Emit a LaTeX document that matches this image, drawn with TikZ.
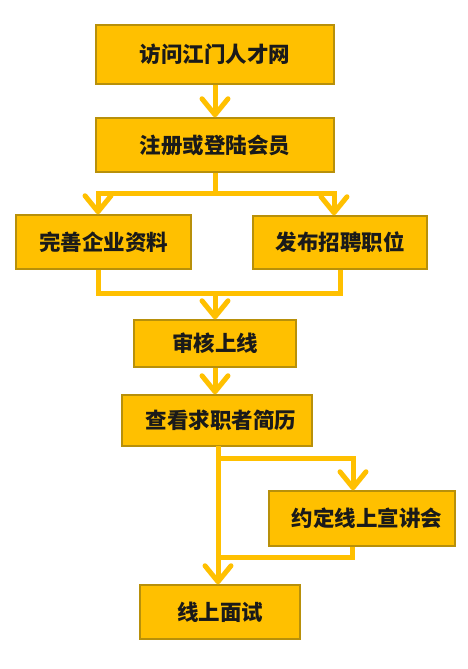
\documentclass[tikz,border=0pt]{standalone}
\usepackage{fontspec}
\newfontfamily\cjk{Noto Sans CJK SC}
\usetikzlibrary{arrows.meta}
\definecolor{gold}{HTML}{FFC000}
\definecolor{goldedge}{HTML}{B8900A}
\definecolor{ink}{HTML}{1A1A1A}
\begin{document}
\begin{tikzpicture}[x=1pt,y=-1pt,
  box/.style={draw=goldedge, line width=1.5pt, fill=gold, text=ink,
    font=\cjk\bfseries\fontsize{21.5}{25}\selectfont, inner sep=0pt},
  flow/.style={draw=gold, line width=5pt, line join=miter},
  arr/.style={flow, -{Straight Barb[length=16pt,width=26pt,round]}}]
\useasboundingbox[fill=white] (0,0) rectangle (468,669);

\node[box, minimum width=238pt, minimum height=59pt] (b1) at (215,54.5) {访问江门人才网};
\node[box, minimum width=238pt, minimum height=54pt] (b2) at (215,145) {注册或登陆会员};
\node[box, minimum width=175pt, minimum height=54pt] (b3) at (103.5,242) {完善企业资料};
\node[box, minimum width=174pt, minimum height=53pt] (b4) at (340,242.5) {发布招聘职位};
\node[box, minimum width=162pt, minimum height=47pt] (b5) at (215,343.5) {审核上线};
\node[box, minimum width=190pt, minimum height=51pt, text width=175pt, align=center] (b6) at (217,420.5) {\hspace*{8pt}查看求职者简历};
\node[box, minimum width=186pt, minimum height=55pt, text width=175pt, align=center] (b7) at (362,518.5) {\hspace*{10pt}约定线上宣讲会};
\node[box, minimum width=160pt, minimum height=54pt] (b8) at (220,612) {线上面试};

% 1 -> 2
\draw[arr] (b1.south) -- (b2.north);

% split to 3 and 4
\coordinate (jL) at (98,193);
\coordinate (jR) at (334,193);
\draw[flow] (b2.south) -- (b2.south |- jL);
\draw[flow, line cap=rect] (jL) -- (jR);
\draw[arr] (jL) -- (jL |- b3.north);
\draw[arr] (jR) -- (jR |- b4.north);

% merge to 5
\coordinate (mL) at (98,293);
\coordinate (mR) at (340,293);
\coordinate (m) at (215,293);
\draw[flow] (mL |- b3.south) -- (mL) -- (mR) -- (mR |- b4.south);
\draw[arr] (m) -- (m |- b5.north);

% 5 -> 6
\draw[arr] (b5.south) -- (b5.south |- b6.north);

% 6 -> 8 and branch via 7
\coordinate (v) at (218,446);
\draw[arr] (v) -- (v |- b8.north);
\coordinate (k1) at (218,458);
\coordinate (k2) at (353,458);
\draw[arr] (k1) -- (k2) -- (k2 |- b7.north);
\coordinate (r1) at (352,557);
\draw[flow] (r1 |- b7.south) -- (r1) -- (r1 -| v);
\end{tikzpicture}
\end{document}
